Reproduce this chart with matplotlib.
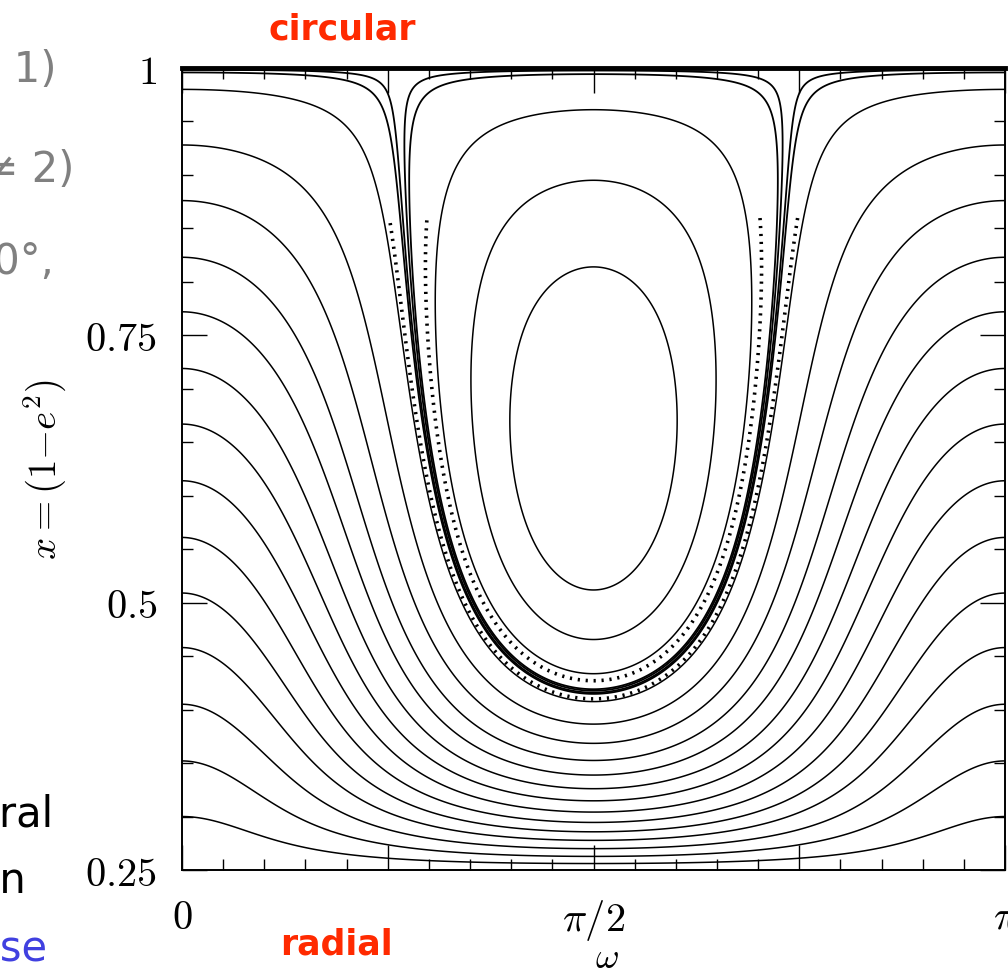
import numpy as np
import matplotlib.pyplot as plt

plt.rcParams['mathtext.fontset'] = 'cm'

# Kozai phase portrait, Theta = x cos^2 i (lowest x on the plot)
theta = 0.25
# x = 1-e^2 where the circulating curves cross omega = 0 (left edge)
x_edge = [0.980, 0.928, 0.876, 0.823, 0.772, 0.719, 0.667,
          0.614, 0.561, 0.509, 0.458, 0.405, 0.352, 0.300]
# x where the libration curves cross omega = pi/2 (upper side)
x_lib = [0.961, 0.895, 0.814]
# thick curves hugging the separatrix: energy offsets from the e=0 level
h_sep = [-0.06, -0.025, 0.02, 0.05]
# dotted orbits next to the separatrix, x at omega = pi/2
x_dot = [0.427, 0.410]


def kozai_h(x, w):
    return (5 - 3 * x) * (3 * theta / x - 1) + 15 * (1 - x) * (1 - theta / x) * np.cos(2 * w)


w = np.linspace(0, np.pi, 1601)
x = np.linspace(theta, 1, 2401)
W, X = np.meshgrid(w, x)
H = kozai_h(X, W)
h0 = kozai_h(1.0, 0.0)

fig = plt.figure(figsize=(10.08, 9.71), dpi=100)
ax = fig.add_axes([182 / 1008, 1 - 870 / 971, (1005 - 182) / 1008, (870 - 68) / 971])

lev_edge = np.sort(kozai_h(np.array(x_edge), 0.0))
lev_lib = np.sort(kozai_h(np.array(x_lib), np.pi / 2))
lev_sep = np.sort(h0 + np.array(h_sep))
lev_dot = np.sort(kozai_h(np.array(x_dot), np.pi / 2))

ax.contour(W, X, H, levels=lev_edge, colors='black', linewidths=1.1, linestyles='solid')
ax.contour(W, X, H, levels=lev_lib, colors='black', linewidths=1.1, linestyles='solid')
ax.contour(W, X, H, levels=lev_sep, colors='black', linewidths=1.3, linestyles='solid')
# the scattered orbits only show up along the lower part of the separatrix
H_dot = np.where(X < 0.86, H, np.nan)
ax.contour(W, X, H_dot, levels=lev_dot, colors='black', linewidths=2.6,
           linestyles=[(0, (0.6, 1.6))])

ax.set_xlim(0, np.pi)
ax.set_ylim(0.25, 1)

ax.set_xticks([0, np.pi / 4, np.pi / 2, 3 * np.pi / 4, np.pi])
ax.set_xticklabels([r'$0$', '', r'$\pi/2$', '', r'$\pi$'])
ax.set_xticks(np.arange(21) * np.pi / 20, minor=True)
ax.set_yticks([0.25, 0.5, 0.75, 1])
ax.set_yticklabels([r'$0.25$', r'$0.5$', r'$0.75$', r'$1$'])
ax.set_yticks(np.arange(0.25, 1.001, 0.05), minor=True)
ax.tick_params(which='both', direction='in', top=True, right=True, width=1.0, labelsize=29)
ax.tick_params(which='major', length=18)
ax.tick_params(which='minor', length=8)
ax.tick_params(axis='y', pad=18)
ax.tick_params(axis='x', pad=20)
for s in ax.spines.values():
    s.set_linewidth(1.4)
ax.spines['top'].set_linewidth(3.5)

fig.text(45 / 1008, 1 - 470 / 971, r'$x=(1{-}e^2)$', rotation=90, fontsize=28,
         ha='center', va='center')
fig.text(607 / 1008, 1 - 958 / 971, r'$\omega$', fontsize=26, ha='center', va='center')

red = '#ff2a00'
fig.text(342 / 1008, 1 - 30 / 971, 'circular', color=red, fontsize=25, fontweight='bold',
         ha='center', va='center')
fig.text(336 / 1008, 1 - 944 / 971, 'radial', color=red, fontsize=25, fontweight='bold',
         ha='center', va='center')

# clipped slide text on the left
gray = '#808080'
fig.text(56 / 1008, 1 - 70 / 971, '(k \u2260 1)', color=gray, fontsize=30, ha='right', va='center')
fig.text(74 / 1008, 1 - 170 / 971, '(k \u2260 2)', color=gray, fontsize=30, ha='right', va='center')
fig.text(54 / 1008, 1 - 262 / 971, 'i = 40\u00b0,', color=gray, fontsize=30, ha='right', va='center')
fig.text(54 / 1008, 1 - 815 / 971, 'general', color='black', fontsize=30, ha='right', va='center')
fig.text(26 / 1008, 1 - 882 / 971, 'can', color='black', fontsize=30, ha='right', va='center')
fig.text(48 / 1008, 1 - 948 / 971, 'close', color='#4040e0', fontsize=30, ha='right', va='center')

fig.savefig('out.png', dpi=100)
